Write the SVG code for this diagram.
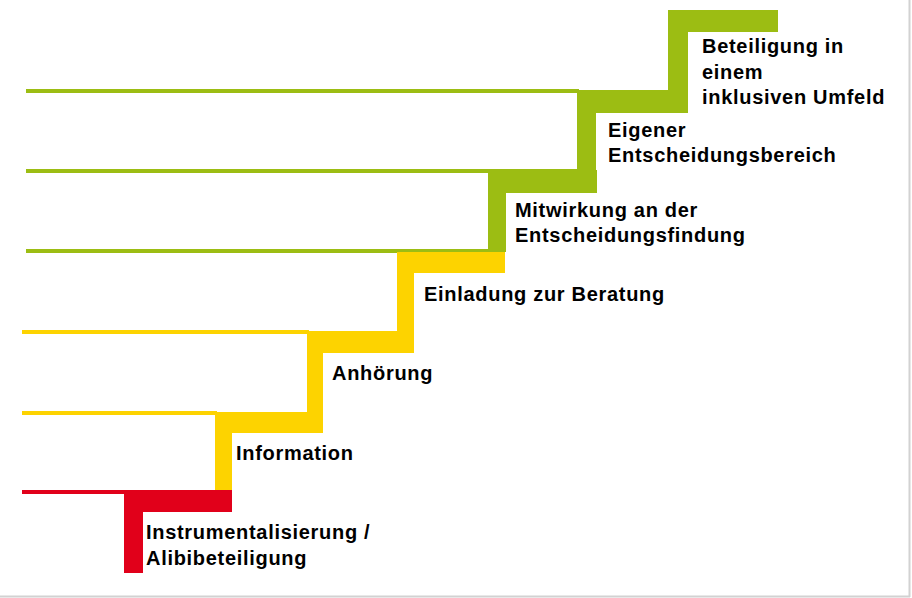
<svg xmlns="http://www.w3.org/2000/svg" width="912" height="598" viewBox="0 0 912 598">
  <style>
    .red { fill: #e1001a; }
    .yel { fill: #fdd300; }
    .grn { fill: #9cbd13; }
    .lbl { font-family: "Liberation Sans", Arial, sans-serif; font-weight: bold; font-size: 20px; letter-spacing: 0.7px; fill: #000; }
    .frame { stroke: #d2d2d2; stroke-width: 2; fill: none; }
  </style>
  <rect x="0" y="0" width="912" height="598" fill="#ffffff"/>
  <g id="frame">
    <line class="frame" x1="909.5" y1="0" x2="909.5" y2="597"/>
    <line class="frame" x1="0" y1="596.5" x2="910" y2="596.5"/>
  </g>
  <g id="connectors">
    <rect class="red" x="22" y="490" width="104" height="4"/>
    <rect class="yel" x="22" y="411" width="195" height="4"/>
    <rect class="yel" x="22" y="330" width="287" height="4"/>
    <rect class="grn" x="26" y="249" width="464" height="4"/>
    <rect class="grn" x="26" y="169" width="553" height="4"/>
    <rect class="grn" x="26" y="89" width="553" height="4"/>
  </g>
  <g id="step1">
    <path class="red" d="M124 490 H232 V512 H143 V573 H124 Z"/>
    <text class="lbl" x="146" y="539">Instrumentalisierung /</text>
    <text class="lbl" x="146" y="565">Alibibeteiligung</text>
  </g>
  <g id="step2">
    <path class="yel" d="M215 412 H323 V433 H232 V490 H215 Z"/>
    <text class="lbl" x="236" y="460">Information</text>
  </g>
  <g id="step3">
    <path class="yel" d="M307 331 H414 V353 H323 V412 H307 Z"/>
    <text class="lbl" x="332" y="380">Anhörung</text>
  </g>
  <g id="step4">
    <path class="yel" d="M397 252 H505 V273 H414 V331 H397 Z"/>
    <text class="lbl" x="424" y="301">Einladung zur Beratung</text>
  </g>
  <g id="step5">
    <path class="grn" d="M488 170 H597 V193 H506 V252 H488 Z"/>
    <text class="lbl" x="515" y="217">Mitwirkung an der</text>
    <text class="lbl" x="515" y="242">Entscheidungsfindung</text>
  </g>
  <g id="step6">
    <path class="grn" d="M577 90 H688 V113 H596 V170 H577 Z"/>
    <text class="lbl" x="608" y="137">Eigener</text>
    <text class="lbl" x="608" y="162">Entscheidungsbereich</text>
  </g>
  <g id="step7">
    <path class="grn" d="M668 10 H778 V32 H688 V90 H668 Z"/>
    <text class="lbl" x="702" y="53">Beteiligung in</text>
    <text class="lbl" x="702" y="79">einem</text>
    <text class="lbl" x="702" y="104">inklusiven Umfeld</text>
  </g>
</svg>
